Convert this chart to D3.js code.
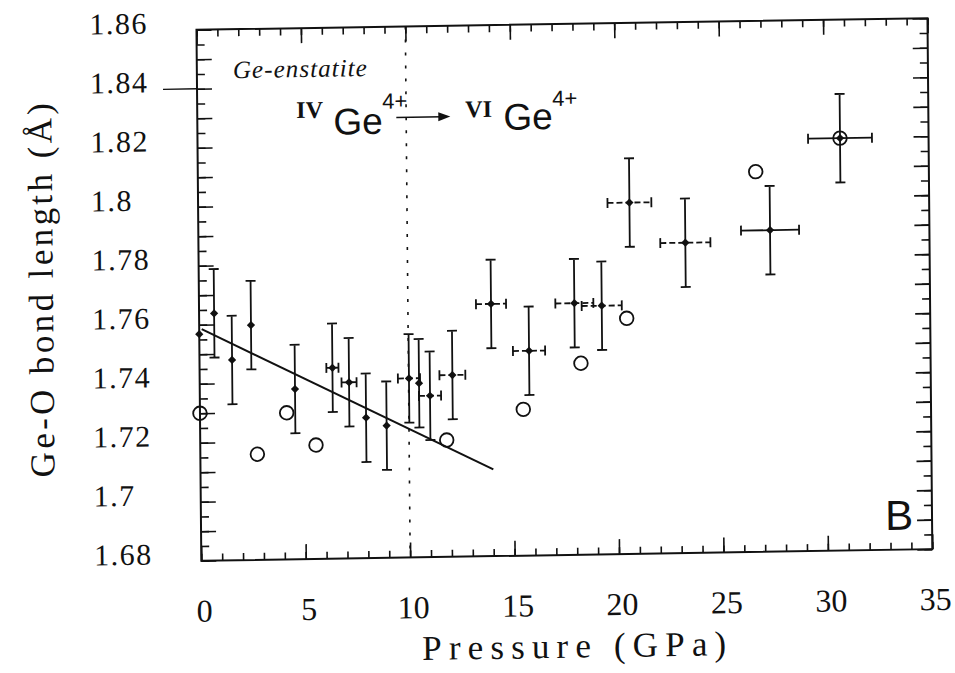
<!DOCTYPE html>
<html>
<head>
<meta charset="utf-8">
<script src="https://cdn.jsdelivr.net/npm/d3@7"></script>
<style>
  body { margin: 0; background: #fff; }
  text { fill: #111; }
</style>
</head>
<body>
<svg width="955" height="673"></svg>
<script>
// measured points (filled diamonds with error bars)
var pressure = [0, 0.72, 1.56, 2.48, 4.56, 6.36, 7.15, 7.95, 8.93, 10.02, 10.5, 11.02, 12.1, 13.98, 15.78, 17.97, 19.28, 20.65, 23.31, 27.37, 30.76]
var bondLength = [1.7568, 1.7638, 1.7479, 1.7596, 1.7377, 1.7447, 1.7397, 1.7276, 1.7248, 1.7407, 1.739, 1.7347, 1.7416, 1.7655, 1.7494, 1.7653, 1.7643, 1.7991, 1.7852, 1.789, 1.8198]
var lengthErr = [0, 0.015, 0.015, 0.015, 0.015, 0.015, 0.015, 0.015, 0.015, 0.015, 0.015, 0.015, 0.015, 0.015, 0.015, 0.015, 0.015, 0.015, 0.015, 0.015, 0.015]
var pressureErr = [0, 0, 0, 0, 0, 0.29, 0.36, 0, 0, 0.53, 0, 0.53, 0.62, 0.72, 0.77, 0.91, 0.96, 1.05, 1.2, 1.39, 1.53]

// open circles
var circPressure = [0, 2.73, 4.15, 5.54, 11.8, 15.48, 18.26, 20.47, 26.71, 30.76]
var circLength = [1.73, 1.7158, 1.7297, 1.7186, 1.7196, 1.7296, 1.7449, 1.7599, 1.8089, 1.8198]

// low-pressure fit line
var fitPressure = [0.12, 14.02]
var fitLength = [1.7585, 1.7094]

var transitionPressure = 10

var xTicks = [0, 5, 10, 15, 20, 25, 30, 35]
var xTickLabels = ['0', '5', '10', '15', '20', '25', '30', '35']
var yTicks = [1.86, 1.84, 1.82, 1.80, 1.78, 1.76, 1.74, 1.72, 1.70, 1.68]
var yTickLabels = ['1.86', '1.84', '1.82', '1.8', '1.78', '1.76', '1.74', '1.72', '1.7', '1.68']

var ink = '#111'
var serif = "'Liberation Serif', 'DejaVu Serif', serif"
var sans = "'Liberation Sans', Arial, sans-serif"

var svg = d3.select('svg')

// the scan is slightly skewed; follow it
var g = svg.append('g')
  .attr('transform', 'matrix(1,-0.0159,0.0091,0.998,-2.74,9.03)')

var x = d3.scaleLinear().domain([0, 35]).range([199, 930])
var y = d3.scaleLinear().domain([1.68, 1.86]).range([556, 24])

var x0 = x.range()[0], x1 = x.range()[1]
var y0 = y.range()[0], y1 = y.range()[1]

function ticks (axis, values, size, tx, ty) {
  g.append('g')
    .attr('transform', 'translate(' + tx + ',' + ty + ')')
    .call(axis.tickValues(values).tickSize(size).tickFormat(''))
    .call(function (s) {
      s.select('.domain').remove()
      s.selectAll('line').attr('stroke', ink).attr('stroke-width', 1.6)
    })
}

var minorX = d3.range(0, 36, 1)
var majorX = d3.range(0, 36, 5)
var minorY = d3.range(0, 37).map(function (i) { return 1.68 + i * 0.005 })
var majorY = d3.range(0, 19).map(function (i) { return 1.68 + i * 0.01 })

ticks(d3.axisTop(x), minorX, 7, 0, y0)
ticks(d3.axisTop(x), majorX, 15, 0, y0)
ticks(d3.axisBottom(x), minorX, 7, 0, y1)
ticks(d3.axisBottom(x), majorX, 15, 0, y1)
ticks(d3.axisRight(y), minorY, 8, x0, 0)
ticks(d3.axisRight(y), majorY, 15, x0, 0)
ticks(d3.axisLeft(y), minorY, 8, x1, 0)
ticks(d3.axisLeft(y), majorY, 15, x1, 0)

// stray outer tick at 1.84
g.append('line')
  .attr('x1', x0 - 34).attr('x2', x0)
  .attr('y1', y(1.84)).attr('y2', y(1.84))
  .attr('stroke', ink).attr('stroke-width', 1.4)

g.append('rect')
  .attr('x', x0).attr('y', y1)
  .attr('width', x1 - x0).attr('height', y0 - y1)
  .attr('fill', 'none').attr('stroke', ink).attr('stroke-width', 2)

// tick labels
g.selectAll('.ylab')
  .data(yTicks)
  .enter()
  .append('text')
  .attr('x', 92)
  .attr('y', function (d) { return y(d) + 3 })
  .attr('font-family', serif)
  .attr('font-size', 30)
  .attr('letter-spacing', 1.5)
  .text(function (d, i) { return yTickLabels[i] })

g.selectAll('.xlab')
  .data(xTicks)
  .enter()
  .append('text')
  .attr('x', function (d) { return x(d) + 3 })
  .attr('y', 617)
  .attr('text-anchor', 'middle')
  .attr('font-family', serif)
  .attr('font-size', 32)
  .text(function (d, i) { return xTickLabels[i] })

g.append('text')
  .attr('x', 419).attr('y', 659)
  .attr('font-family', serif)
  .attr('font-size', 35)
  .attr('textLength', 304)
  .attr('lengthAdjust', 'spacing')
  .text('Pressure (GPa)')

g.append('text')
  .attr('transform', 'translate(53,470) rotate(-90)')
  .attr('font-family', serif)
  .attr('font-size', 35)
  .attr('textLength', 375)
  .attr('lengthAdjust', 'spacing')
  .text('Ge-O bond length (Å)')

// transition line
g.append('line')
  .attr('x1', x(transitionPressure)).attr('x2', x(transitionPressure))
  .attr('y1', y1).attr('y2', y0)
  .attr('stroke', ink).attr('stroke-width', 1.6)
  .attr('stroke-dasharray', '3,10')

// annotations
g.append('text')
  .attr('x', 235).attr('y', 73)
  .attr('font-family', serif)
  .attr('font-style', 'italic')
  .attr('font-size', 25)
  .attr('textLength', 134)
  .attr('lengthAdjust', 'spacing')
  .text('Ge-enstatite')

function ion (roman, rx, ry, gx, gy, sx, sy) {
  g.append('text').attr('x', rx).attr('y', ry)
    .attr('font-family', serif).attr('font-size', 24)
    .attr('font-weight', 'bold')
    .text(roman)
  g.append('text').attr('x', gx).attr('y', gy)
    .attr('font-family', sans).attr('font-size', 37)
    .text('Ge')
  g.append('text').attr('x', sx).attr('y', sy)
    .attr('font-family', sans).attr('font-size', 22)
    .text('4+')
}
ion('IV', 298, 114, 335, 131, 384, 106)
ion('VI', 467, 116, 505, 129, 554, 106)

g.append('line')
  .attr('x1', 398).attr('x2', 444)
  .attr('y1', 115).attr('y2', 115)
  .attr('stroke', ink).attr('stroke-width', 1.6)
g.append('path')
  .attr('d', 'M452,115 L440,110.5 L440,119.5 Z')
  .attr('fill', ink)

g.append('text')
  .attr('x', 883).attr('y', 536)
  .attr('font-family', sans)
  .attr('font-size', 42)
  .text('B')

// fit line
var line = d3.line()
  .x(function (d) { return x(d[0]) })
  .y(function (d) { return y(d[1]) })

g.append('path')
  .datum(d3.zip(fitPressure, fitLength))
  .attr('d', line)
  .attr('fill', 'none')
  .attr('stroke', ink)
  .attr('stroke-width', 2)

// open circles
g.selectAll('.calc')
  .data(d3.zip(circPressure, circLength))
  .enter()
  .append('circle')
  .attr('cx', function (d) { return x(d[0]) })
  .attr('cy', function (d) { return y(d[1]) })
  .attr('r', 6.8)
  .attr('fill', 'none')
  .attr('stroke', ink)
  .attr('stroke-width', 1.8)

// error bars
var pts = d3.range(pressure.length).map(function (i) {
  return { p: pressure[i], l: bondLength[i], el: lengthErr[i], ep: pressureErr[i] }
})

var bars = g.append('g')
  .attr('stroke', ink)
  .attr('stroke-width', 1.8)
  .attr('fill', 'none')

pts.forEach(function (d) {
  var cx = x(d.p), cy = y(d.l)
  if (d.el > 0) {
    var ya = y(d.l + d.el), yb = y(d.l - d.el)
    bars.append('path')
      .attr('d', 'M' + cx + ',' + ya + 'V' + yb +
        'M' + (cx - 5) + ',' + ya + 'H' + (cx + 5) +
        'M' + (cx - 5) + ',' + yb + 'H' + (cx + 5))
  }
  if (d.ep > 0) {
    var xa = x(d.p - d.ep), xb = x(d.p + d.ep)
    bars.append('path')
      .attr('d', 'M' + xa + ',' + cy + 'H' + xb)
      .attr('stroke-dasharray', d.ep > 1.3 ? null : '6,3')
    bars.append('path')
      .attr('d', 'M' + xa + ',' + (cy - 5) + 'V' + (cy + 5) +
        'M' + xb + ',' + (cy - 5) + 'V' + (cy + 5))
  }
})

// filled diamonds
g.selectAll('.obs')
  .data(pts)
  .enter()
  .append('path')
  .attr('d', d3.symbol(d3.symbolSquare, 34))
  .attr('transform', function (d) {
    return 'translate(' + x(d.p) + ',' + y(d.l) + ') rotate(45)'
  })
  .attr('fill', ink)
</script>
</body>
</html>
